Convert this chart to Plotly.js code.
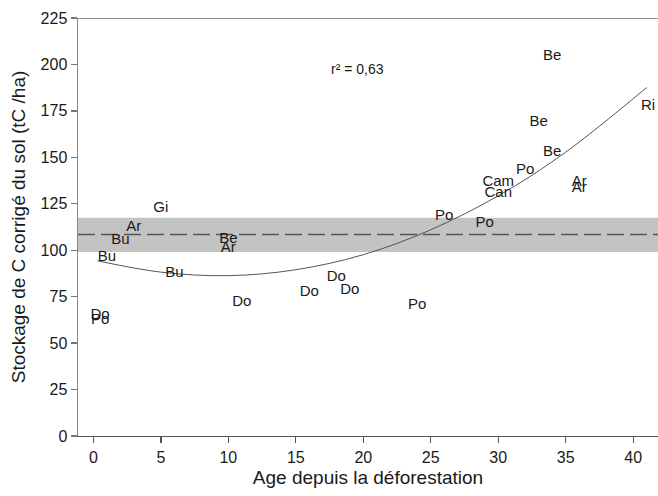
<!DOCTYPE html>
<html>
<head>
<meta charset="utf-8">
<script src="https://cdn.plot.ly/plotly-3.0.1.min.js"></script>
<style>html,body{margin:0;padding:0;background:#fff;}#chart{width:658px;height:496px;}</style>
</head>
<body>
<div id="chart"></div>
<script>
// Site labels and their positions (age since deforestation, corrected soil C stock)
const siteLabels = ["Gi","Ar","Bu","Bu","Bu","Be","Ar","Do","Do","Po","Do","Do","Do","Po","Po","Po","Cam","Can","Po","Be","Be","Be","Ar","Ar","Ri"];
const siteAge    = [5.0, 3.0, 2.0, 1.0, 6.0, 10.0, 10.0, 11.0, 0.5, 0.5, 16.0, 18.0, 19.0, 24.0, 26.0, 29.0, 30.0, 30.0, 32.0, 33.0, 34.0, 34.0, 36.0, 36.0, 41.1];
const siteStock  = [122.5, 112.4, 105.4, 96.0, 87.4, 105.8, 101.3, 72.1, 65.2, 62.2, 77.3, 85.4, 78.5, 70.3, 118.2, 114.4, 136.5, 130.6, 142.9, 168.7, 152.6, 204.3, 136.5, 133.2, 177.4];

// Trend curve
const trendAge   = [0.3, 5, 10, 15, 20, 25, 30, 35, 41];
const trendStock = [94.3, 88.2, 86.3, 89.5, 97.6, 111.0, 129.3, 152.8, 187.6];

// Forest reference: mean and band
const forestMean = 108.5;
const forestLow  = 99.0;
const forestHigh = 117.5;

const xTicks = [0, 5, 10, 15, 20, 25, 30, 35, 40];
const yTicks = [0, 25, 50, 75, 100, 125, 150, 175, 200, 225];

const traces = [
  {
    x: trendAge, y: trendStock, type: "scatter", mode: "lines",
    line: {color: "#555", width: 1, shape: "spline"}, hoverinfo: "skip", showlegend: false
  },
  {
    x: siteAge, y: siteStock, text: siteLabels, type: "scatter", mode: "text",
    textposition: "middle center",
    textfont: {family: "Liberation Sans, Arial, sans-serif", size: 15, color: "#1a1a1a"},
    showlegend: false
  }
];

const layout = {
  width: 658, height: 496,
  margin: {l: 78, r: 0, t: 18, b: 60},
  paper_bgcolor: "#fff", plot_bgcolor: "#fff",
  font: {family: "Liberation Sans, Arial, sans-serif", color: "#1a1a1a"},
  showlegend: false,
  xaxis: {
    range: [-1.14, 41.84], tickvals: xTicks, ticktext: xTicks.map(String),
    showgrid: false, zeroline: false, showline: true, linecolor: "#555", linewidth: 1.3,
    ticks: "outside", ticklen: 6, tickcolor: "#555", tickwidth: 1.3,
    tickfont: {size: 16, color: "#1a1a1a"},
    title: {text: "Age depuis la déforestation", font: {size: 19, color: "#1a1a1a"}, standoff: 6}
  },
  yaxis: {
    range: [0, 225], tickvals: yTicks, ticktext: yTicks.map(String),
    showgrid: false, zeroline: false, showline: true, linecolor: "#888", linewidth: 1.5,
    ticks: "outside", ticklen: 6, tickcolor: "#777", tickwidth: 1.3,
    ticklabelstandoff: 0,
    tickfont: {size: 16, color: "#1a1a1a"},
    title: {text: "Stockage de C corrigé du sol (tC /ha)", font: {size: 19, color: "#1a1a1a"}, standoff: 10}
  },
  shapes: [
    {type: "rect", xref: "paper", yref: "y", x0: 0, x1: 1, y0: forestLow, y1: forestHigh,
     fillcolor: "#c3c3c3", line: {width: 0}, layer: "below"},
    {type: "line", xref: "paper", yref: "y", x0: 0, x1: 1, y0: forestMean, y1: forestMean,
     line: {color: "#555", width: 1.5, dash: "17px,6px"}, layer: "below"},
    {type: "line", xref: "paper", yref: "y", x0: 0, x1: 1, y0: 225, y1: 225,
     line: {color: "#222", width: 1}}
  ],
  annotations: [
    {x: 19.6, y: 197.5, xref: "x", yref: "y", text: "r² = 0,63", showarrow: false,
     font: {size: 14, color: "#1a1a1a", family: "Liberation Sans Narrow, Liberation Sans, Arial, sans-serif"}}
  ]
};

Plotly.newPlot("chart", traces, layout, {displayModeBar: false, staticPlot: true});
</script>
</body>
</html>
